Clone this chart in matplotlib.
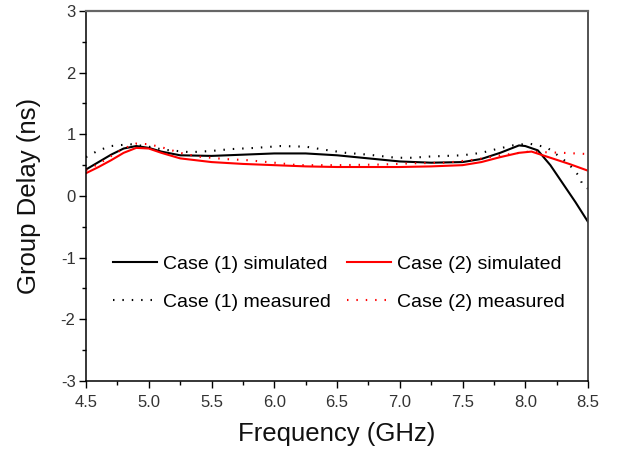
import matplotlib
matplotlib.use("Agg")
import matplotlib.pyplot as plt

plt.rcParams['font.family'] = ['Liberation Sans', 'DejaVu Sans']
plt.rcParams['axes.unicode_minus'] = False

# Case (1) simulated
f_c1_sim = [4.5, 4.6, 4.7, 4.8, 4.9, 5.0, 5.1, 5.25, 5.5, 5.75, 6.0, 6.25, 6.5, 6.75,
            7.0, 7.25, 7.5, 7.65, 7.8, 7.95, 8.0, 8.1, 8.2, 8.3, 8.4, 8.5]
gd_c1_sim = [0.43, 0.55, 0.67, 0.77, 0.81, 0.78, 0.72, 0.66, 0.65, 0.67, 0.69, 0.69, 0.66, 0.61,
             0.56, 0.54, 0.55, 0.60, 0.70, 0.82, 0.81, 0.74, 0.50, 0.20, -0.10, -0.42]

# Case (2) simulated
f_c2_sim = [4.5, 4.6, 4.7, 4.8, 4.9, 5.0, 5.1, 5.25, 5.5, 5.75, 6.0, 6.25, 6.5, 6.75,
            7.0, 7.25, 7.5, 7.65, 7.8, 7.95, 8.05, 8.2, 8.35, 8.5]
gd_c2_sim = [0.37, 0.47, 0.58, 0.70, 0.78, 0.77, 0.70, 0.61, 0.55, 0.52, 0.50, 0.48, 0.47, 0.47,
             0.47, 0.48, 0.50, 0.55, 0.63, 0.70, 0.72, 0.62, 0.52, 0.41]

# Case (1) measured
f_c1_meas = [4.5, 4.6, 4.7, 4.85, 5.0, 5.12, 5.33, 5.5, 5.65, 5.85, 6.05, 6.25, 6.4, 6.57,
             6.75, 6.97, 7.1, 7.24, 7.5, 7.65, 7.77, 7.9, 8.03, 8.17, 8.3, 8.35, 8.43, 8.46, 8.5]
gd_c1_meas = [0.63, 0.74, 0.81, 0.84, 0.80, 0.75, 0.71, 0.73, 0.76, 0.78, 0.81, 0.80, 0.75, 0.70,
              0.67, 0.62, 0.62, 0.64, 0.66, 0.70, 0.76, 0.82, 0.85, 0.79, 0.60, 0.51, 0.32, 0.16, 0.12]

# Case (2) measured
f_c2_meas = [4.5, 4.6, 4.71, 4.8, 4.9, 5.0, 5.12, 5.25, 5.39, 5.6, 5.79, 6.0, 6.19, 6.5,
             6.85, 7.1, 7.37, 7.6, 7.77, 8.03, 8.15, 8.3, 8.5]
gd_c2_meas = [0.42, 0.52, 0.66, 0.77, 0.85, 0.84, 0.78, 0.70, 0.64, 0.60, 0.58, 0.54, 0.50, 0.50,
              0.51, 0.53, 0.54, 0.59, 0.65, 0.72, 0.71, 0.70, 0.68]

x_ticks = [4.5, 5.0, 5.5, 6.0, 6.5, 7.0, 7.5, 8.0, 8.5]
y_ticks = [-3, -2, -1, 0, 1, 2, 3]


def main():
    fig = plt.figure(figsize=(6.21, 4.54), dpi=100)
    ax = fig.add_axes([0.1385, 0.1608, 0.8084, 0.815])

    dots = (0, (0.7, 3.8))
    ax.plot(f_c1_sim, gd_c1_sim, color="black", lw=1.5, label="Case (1) simulated")
    ax.plot(f_c2_sim, gd_c2_sim, color="red", lw=1.5, label="Case (2) simulated")
    ax.plot(f_c1_meas, gd_c1_meas, color="black", lw=1.5, ls=dots, label="Case (1) measured")
    ax.plot(f_c2_meas, gd_c2_meas, color="red", lw=1.5, ls=dots, label="Case (2) measured")

    ax.set_xlim(4.5, 8.5)
    ax.set_ylim(-3, 3)
    ax.set_xticks(x_ticks)
    ax.set_xticklabels([f"{v:.1f}" for v in x_ticks])
    ax.set_yticks(y_ticks)
    ax.set_xticks([v + 0.25 for v in x_ticks[:-1]], minor=True)
    ax.set_yticks([v + 0.5 for v in y_ticks[:-1]], minor=True)
    ax.tick_params(which="major", direction="out", length=5, width=1, labelsize=12,
                   labelcolor="#333333")
    ax.tick_params(axis="x", which="major", pad=5)
    ax.tick_params(axis="y", which="major", pad=2.5)
    ax.tick_params(which="minor", direction="out", length=3, width=1)

    for s in ["left", "bottom"]:
        ax.spines[s].set_linewidth(1.1)
    ax.spines["top"].set_color("#666666")
    ax.spines["top"].set_linewidth(1.6)
    ax.spines["right"].set_color("#444444")
    ax.spines["right"].set_linewidth(1.3)

    ax.set_xlabel("Frequency (GHz)", fontsize=18.5, color="#111111", labelpad=9)
    ax.set_ylabel("Group Delay (ns)", fontsize=18.5, color="#111111", labelpad=14)

    handles, labels = ax.get_legend_handles_labels()
    order = [0, 2, 1, 3]
    ax.legend([handles[i] for i in order], [labels[i] for i in order], ncol=2, frameon=False,
              fontsize=14, loc="upper left", bbox_to_anchor=(0.018, 0.387),
              handlelength=2.3, handletextpad=0.3, columnspacing=0.8, labelspacing=1.05)

    fig.savefig("out.png", dpi=100)


if __name__ == "__main__":
    main()
